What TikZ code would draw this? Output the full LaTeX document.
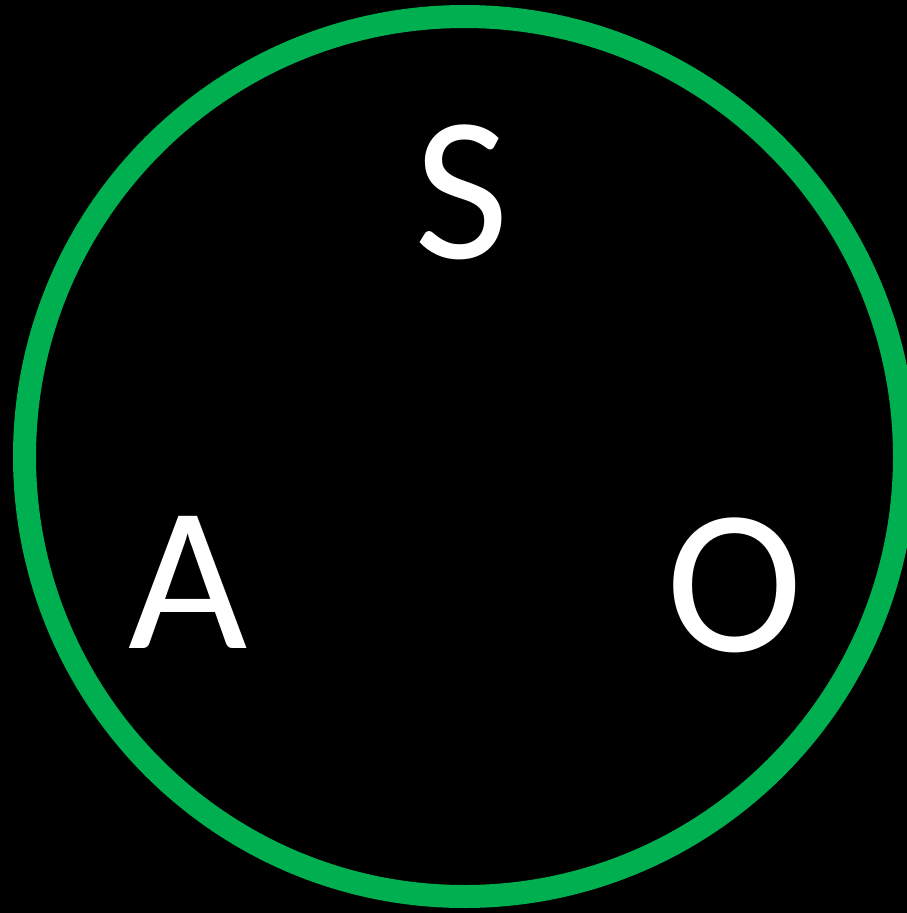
\documentclass[tikz,border=0pt]{standalone}
\usepackage{fontspec}
\setmainfont{Carlito}
\usetikzlibrary{positioning}
\definecolor{ringgreen}{RGB}{0,176,80}

\begin{document}
\begin{tikzpicture}[
    x=1pt, y=-1pt,
    letter/.style={text=white, inner sep=0pt, anchor=base, font=\fontsize{206}{206}\selectfont},
    ring/.style={draw=ringgreen, line width=23pt}
  ]
    \useasboundingbox (0,0) rectangle (907,913);
    \fill[black] (0,0) rectangle (907,913);
    \clip (0,0) rectangle (907,913);
    \coordinate (mid) at (464.5,456.5);
    \draw[ring] (mid) circle[radius=440pt];
    \node[letter] (S) at (462,258) {S};
    \node[letter] (A) at (188,648) {A};
    \node[letter] (O) at (735,651) {O};
  \end{tikzpicture}
\end{document}
